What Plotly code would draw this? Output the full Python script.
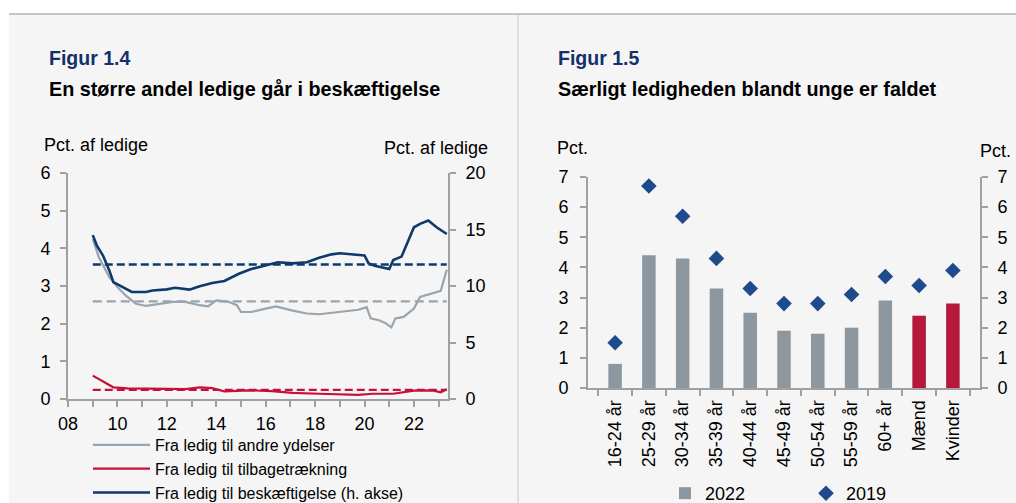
import plotly.graph_objects as go

FONT = "Liberation Sans, Arial, sans-serif"
W, H = 1016, 503

# ---------- Figure 1.4 data ----------
blue_dates = ["2009-01","2009-03","2009-06","2009-09","2009-11","2010-02","2010-05","2010-08","2010-11",
              "2011-03","2011-06","2012-01","2012-05","2012-12","2013-05","2013-11","2014-05","2014-12",
              "2015-06","2016-01","2016-07","2017-02","2017-09","2018-03","2018-09","2019-01","2019-07",
              "2020-01","2020-03","2020-06","2021-01","2021-03","2021-07","2022-01","2022-04","2022-08",
              "2022-12","2023-05"]
blue_vals = [14.5,13.6,12.7,11.4,10.35,10.06,9.77,9.47,9.47,
             9.47,9.6,9.7,9.85,9.68,9.97,10.26,10.44,11.08,
             11.5,11.8,12.1,12.0,12.1,12.5,12.8,12.9,12.8,
             12.7,12.0,11.8,11.5,12.3,12.6,15.2,15.5,15.8,
             15.2,14.6]

gray_dates = ["2009-01","2009-04","2009-09","2010-01","2010-05","2010-10","2011-03","2011-09","2012-04",
              "2012-10","2013-05","2013-09","2014-01","2014-07","2014-11","2015-01","2015-06","2016-01",
              "2016-06","2017-01","2017-09","2018-03","2018-09","2019-04","2019-10","2020-02","2020-04",
              "2020-08","2020-11","2021-02","2021-04","2021-08","2022-01","2022-04","2022-09","2023-02",
              "2023-05"]
gray_vals = [4.25,3.76,3.24,2.97,2.75,2.53,2.47,2.53,2.58,
             2.58,2.49,2.46,2.62,2.58,2.49,2.31,2.31,2.40,
             2.46,2.36,2.27,2.25,2.29,2.34,2.37,2.44,2.14,
             2.09,2.02,1.90,2.14,2.18,2.40,2.71,2.80,2.87,
             3.43]

red_dates = ["2009-01","2009-06","2009-11","2010-06","2012-01","2012-10","2013-05","2013-11","2014-05",
             "2015-05","2016-04","2017-02","2018-03","2019-04","2019-10","2020-05","2021-03","2022-01",
             "2022-10","2023-02","2023-05"]
red_vals = [0.62,0.47,0.31,0.28,0.26,0.26,0.31,0.29,0.20,
            0.23,0.21,0.16,0.14,0.11,0.11,0.14,0.14,0.22,
            0.23,0.18,0.26]

avg_period = ["2009-01", "2023-05"]
gray_avg = 2.59
red_avg = 0.24
blue_avg = 11.9

# ---------- Figure 1.5 data ----------
groups = ["16-24 år","25-29 år","30-34 år","35-39 år","40-44 år","45-49 år",
          "50-54 år","55-59 år","60+ år","Mænd","Kvinder"]
vals_2022 = [0.8,4.4,4.3,3.3,2.5,1.9,1.8,2.0,2.9,2.4,2.8]
vals_2019 = [1.5,6.7,5.7,4.3,3.3,2.8,2.8,3.1,3.7,3.4,3.9]

# ---------- colours ----------
C_GRAY = "#98a4ae"
C_RED = "#c4103a"
C_BLUE = "#0e3a6b"
C_BAR = "#8c979f"
C_BAR_RED = "#b5173d"
C_DIAM = "#1f4a8c"
C_AXIS = "#a0a0a0"
BG = "#f5f5f5"

def px_x(p):
    return p / W

def px_y(p):
    return 1 - p / H

fig = go.Figure()

# Left chart traces
fig.add_trace(go.Scatter(x=gray_dates, y=gray_vals, mode="lines", name="Fra ledig til andre ydelser",
                         line=dict(color=C_GRAY, width=2.2), xaxis="x", yaxis="y", legend="legend"))
fig.add_trace(go.Scatter(x=red_dates, y=red_vals, mode="lines", name="Fra ledig til tilbagetrækning",
                         line=dict(color=C_RED, width=2.2), xaxis="x", yaxis="y", legend="legend"))
fig.add_trace(go.Scatter(x=blue_dates, y=blue_vals, mode="lines", name="Fra ledig til beskæftigelse (h. akse)",
                         line=dict(color=C_BLUE, width=2.6), xaxis="x", yaxis="y2", legend="legend"))
fig.add_trace(go.Scatter(x=avg_period, y=[gray_avg]*2, mode="lines", showlegend=False,
                         line=dict(color=C_GRAY, width=2.2, dash="9px,5px"), xaxis="x", yaxis="y"))
fig.add_trace(go.Scatter(x=avg_period, y=[red_avg]*2, mode="lines", showlegend=False,
                         line=dict(color=C_RED, width=2.2, dash="8px,4px"), xaxis="x", yaxis="y"))
fig.add_trace(go.Scatter(x=avg_period, y=[blue_avg]*2, mode="lines", showlegend=False,
                         line=dict(color=C_BLUE, width=2.5, dash="8px,4px"), xaxis="x", yaxis="y2"))

# Right chart traces
bar_colors = [C_BAR]*9 + [C_BAR_RED]*2
fig.add_trace(go.Bar(x=groups, y=vals_2022, name="2022", marker=dict(color=bar_colors, line=dict(width=0)),
                     xaxis="x2", yaxis="y3", legend="legend2"))
fig.add_trace(go.Scatter(x=groups, y=vals_2019, name="2019", mode="markers",
                         marker=dict(symbol="diamond", size=12, color=C_DIAM),
                         xaxis="x2", yaxis="y4", legend="legend2"))

axis_common = dict(showline=True, linecolor=C_AXIS, linewidth=2, ticks="outside", ticklen=6,
                   tickcolor=C_AXIS, tickwidth=1.5, showgrid=False, zeroline=False, automargin=False,
                   tickfont=dict(family=FONT, size=18, color="#000"))

L_dom_x = [px_x(68), px_x(448)]
L_dom_y = [px_y(399), px_y(173)]
R_dom_x = [px_x(588), px_x(980)]
R_dom_y = [px_y(388), px_y(177)]

fig.update_layout(
    width=W, height=H,
    margin=dict(l=0, r=0, t=0, b=0, autoexpand=False),
    paper_bgcolor="white", plot_bgcolor=BG,
    font=dict(family=FONT, size=18, color="#000"),
    bargap=0.6,
    xaxis=dict(domain=L_dom_x, anchor="y", type="date", range=["2008-01-01", "2023-05-19"],
               dtick="M24", tick0="2008-01-01", tickformat="%y",
               minor=dict(dtick="M12", ticks="outside", ticklen=6, tickcolor=C_AXIS, tickwidth=1.5),
               ticklabelstandoff=1, **axis_common),
    yaxis=dict(domain=L_dom_y, anchor="x", range=[0, 6], dtick=1, ticklabelstandoff=6, **axis_common),
    yaxis2=dict(anchor="x", overlaying="y", side="right", range=[0, 20], dtick=5,
                ticklabelstandoff=6, **axis_common),
    xaxis2=dict(domain=R_dom_x, anchor="y3", type="category", tickson="boundaries", tickangle=-90,
                ticklabelstandoff=3, **axis_common),
    yaxis3=dict(domain=R_dom_y, anchor="x2", range=[0, 7], dtick=1, ticklabelstandoff=8, **axis_common),
    yaxis4=dict(anchor="x2", overlaying="y3", side="right", range=[0, 7], dtick=1,
                ticklabelstandoff=6, **axis_common),
    legend=dict(x=px_x(88), y=px_y(428), xanchor="left", yanchor="top", orientation="v",
                bgcolor="rgba(0,0,0,0)", font=dict(family=FONT, size=16, color="#000"),
                itemwidth=57, tracegroupgap=0, traceorder="normal"),
    legend2=dict(x=px_x(665), y=px_y(475), xanchor="left", yanchor="top", orientation="h",
                 bgcolor="rgba(0,0,0,0)", font=dict(family=FONT, size=18, color="#000"),
                 entrywidth=96, entrywidthmode="pixels", itemwidth=30),
)

# Background panels and separators
fig.add_shape(type="rect", xref="paper", yref="paper", x0=px_x(9), x1=1, y0=0, y1=px_y(14),
              fillcolor=BG, line=dict(width=0), layer="below")
fig.add_shape(type="line", xref="paper", yref="paper", x0=px_x(9), x1=1, y0=px_y(14), y1=px_y(14),
              line=dict(color="#b3b3b3", width=1.5))
fig.add_shape(type="line", xref="paper", yref="paper", x0=px_x(518), x1=px_x(518), y0=0, y1=px_y(14),
              line=dict(color="#c8c8c8", width=1))

def ann(text, x, y, size, bold=False, color="#000", xanchor="left"):
    fig.add_annotation(text=f"<b>{text}</b>" if bold else text, xref="paper", yref="paper",
                       x=px_x(x), y=px_y(y), xanchor=xanchor, yanchor="middle", showarrow=False,
                       font=dict(family=FONT, size=size, color=color))

ann("Figur 1.4", 47, 58, 19.5, bold=True, color="#14306b")
ann("En større andel ledige går i beskæftigelse", 47, 89, 19.8, bold=True)
ann("Figur 1.5", 556, 58, 19.5, bold=True, color="#14306b")
ann("Særligt ledigheden blandt unge er faldet", 556, 89, 19.8, bold=True)

ann("Pct. af ledige", 42, 145, 18)
ann("Pct. af ledige", 490, 148, 18, xanchor="right")
ann("Pct.", 555, 148, 18)
ann("Pct.", 1013, 151, 18, xanchor="right")

fig.write_html("out.html", config={"displayModeBar": False},
               post_script="document.body.style.margin='0';document.body.style.overflow='hidden';")
